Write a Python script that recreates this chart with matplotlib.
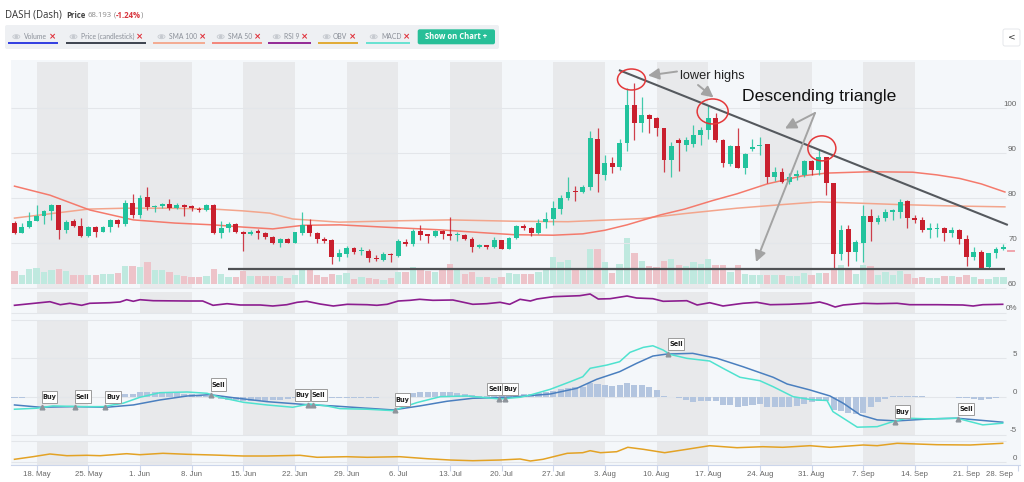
import numpy as np
import pandas as pd
import matplotlib
matplotlib.use("Agg")
import matplotlib.pyplot as plt
import matplotlib.transforms as mtrans
from matplotlib.patches import Rectangle, Ellipse, FancyBboxPatch, Circle

# ---------------- data ----------------
START = pd.Timestamp("2020-05-15")

open_ = [74.56,72.36,73.56,74.96,76.06,77.16,78.46,72.96,74.96,73.86,
         71.66,73.56,72.56,73.56,75.16,74.26,79.06,76.26,80.26,77.96,
         78.26,78.66,77.92,78.56,78.26,77.66,77.36,78.56,72.26,73.36,
         74.26,72.56,71.96,72.76,72.36,71.46,69.96,71.06,70.06,72.36,
         74.06,72.36,71.06,70.76,66.86,67.63,69.03,68.22,68.3,66.8,
         66.3,67.6,67.2,70.2,69.8,72.8,72.0,71.6,72.8,72.07,
         71.8,71.9,71.0,69.1,69.55,69.26,70.66,68.8,71.1,73.9,
         73.5,72.2,74.7,75.35,77.7,80.1,81.55,81.3,82.5,93.2,
         85.25,87.9,86.95,92.4,100.72,96.68,98.5,97.8,95.53,88.5,
         92.9,91.9,92.07,94.07,95.2,97.78,92.96,87.63,91.63,86.67,
         90.9,91.63,92.07,84.67,85.93,83.7,85.04,85.19,88.37,86.3,
         89.1,83.33,67.63,73.2,68.1,70.15,76.1,74.7,75.55,77.0,
         77.0,79.4,75.6,75.2,72.96,73.2,73.33,72.37,72.96,70.89,
         66.9,68.15,64.66,67.8,68.66]
high_ = [74.86,74.46,77.06,78.46,77.36,78.66,78.56,75.16,75.36,75.56,
         73.86,73.86,73.86,75.36,75.36,79.66,80.96,80.66,82.46,78.56,
         79.06,79.76,78.86,78.76,78.56,78.16,78.66,78.66,75.06,74.66,
         74.46,72.66,72.86,73.26,72.56,71.56,71.26,71.26,72.56,76.86,
         75.46,72.46,71.46,70.96,68.66,69.4,69.1,69.1,68.7,67.3,
         68.15,67.8,70.9,70.9,73.2,74.1,72.07,72.96,72.96,75.8,
         72.6,72.07,71.5,69.85,69.6,71.4,70.7,71.3,74.07,74.3,
         73.7,75.3,77.0,79.45,80.7,84.65,82.7,82.9,95.0,95.6,
         89.7,89.2,93.1,104.4,105.6,102.6,98.8,98.0,95.7,92.6,
         93.4,93.6,96.3,95.9,100.5,98.9,93.1,91.85,95.56,90.0,
         93.2,93.56,92.07,87.04,86.67,85.7,86.3,88.5,88.5,90.74,
         89.26,83.33,74.07,74.07,70.7,78.5,77.6,76.2,77.7,77.6,
         79.9,79.6,76.3,75.9,74.6,74.6,73.55,73.55,73.1,71.85,
         69.1,68.5,67.9,69.26,69.85]
low_ = [71.96,72.26,73.36,74.86,74.26,75.16,70.96,72.36,73.56,71.46,
        71.46,71.46,72.46,72.56,73.56,73.86,75.56,75.56,77.36,76.86,
        77.76,77.36,77.56,75.96,77.26,77.06,77.26,72.06,71.26,72.56,
        72.36,68.36,71.76,71.06,70.86,69.92,69.26,69.96,69.96,71.76,
        71.66,70.16,70.16,65.36,65.96,66.9,67.6,67.4,65.8,66.15,
        66.15,65.9,67.0,69.4,69.5,70.7,70.15,71.5,70.9,70.7,
        70.4,70.7,68.15,68.9,68.8,69.0,68.7,68.7,70.96,72.96,
        71.6,72.07,73.5,74.0,76.5,79.6,79.5,81.26,81.8,81.5,
        84.0,85.6,86.2,90.55,92.96,94.63,94.5,93.9,85.8,84.63,
        86.0,90.5,91.5,91.8,93.1,92.6,87.04,87.2,86.67,85.4,
        90.4,89.63,83.5,83.93,83.33,83.2,84.07,84.8,85.19,85.19,
        80.74,64.44,66.3,65.0,66.1,65.9,70.5,74.3,74.9,75.2,
        75.6,73.5,74.4,72.5,71.2,71.5,70.6,71.5,69.85,64.96,
        66.3,64.2,64.3,66.67,68.5]
close_ = [72.36,73.66,74.96,76.06,77.26,78.46,72.96,74.66,73.86,71.66,
          73.56,72.56,73.56,75.16,74.26,79.06,76.26,80.16,78.16,78.16,
          78.66,77.76,78.46,78.16,77.76,77.46,78.56,72.36,73.36,74.26,
          72.56,71.96,72.56,72.26,71.36,69.96,71.06,70.06,72.56,74.06,
          72.36,71.06,70.56,66.86,67.76,69.03,68.15,68.37,66.7,66.6,
          67.6,67.4,70.4,69.8,72.8,71.85,71.7,72.66,72.0,71.7,
          72.0,70.96,69.1,69.55,69.1,70.66,68.8,71.2,73.85,73.5,
          72.2,74.6,75.35,77.8,80.15,81.5,81.3,82.6,93.3,85.3,
          87.9,86.95,92.2,100.72,96.68,98.5,97.7,95.53,88.5,91.7,
          92.3,92.9,94.07,95.2,97.8,92.96,87.78,91.63,86.67,89.85,
          91.5,91.85,84.67,85.93,83.7,84.67,85.33,88.37,86.3,89.26,
          83.33,67.63,72.96,68.0,70.2,76.1,74.8,75.6,77.0,77.3,
          79.26,75.55,75.2,72.96,73.3,73.5,72.2,72.96,70.89,66.9,
          68.15,64.44,67.8,68.74,69.1]
volume = [13.3,9,15,16.3,12,14.3,15.7,13,9.3,9.3,
          9,9.3,10,10,11,18,18,17,22.3,14,
          14,12.7,9,8.3,7.7,7.7,8.3,15.7,10,7.7,
          7,13,8.3,8.3,8.3,8.3,8.3,6.7,9,16.3,
          15,9.7,7.7,10,9.7,11.7,5,7.3,6,5.3,
          4.7,6,12,12,17,15.3,13,12,16,20.7,
          14,10.7,12,7,7,6.3,7,11,10.7,10.7,
          10,12.3,15,27.3,22.5,24,14.8,14,35,35,
          22.5,11.5,19.8,46.5,31.5,23,18.3,17.5,23,25,
          19,18.3,22.3,20.7,25,19,19.7,12.3,19.7,10.7,
          9.7,9,9,9,9.7,8,8.3,11.7,9,11.3,
          11.7,14,19,15.7,10.7,19,18.3,9.7,12.3,9,
          13,10.7,6.3,7.3,6.3,6.3,8.3,8.3,7.3,9.7,
          7.3,5,5.7,7.3,7.3]
last_price = 68.193
price_change_pct = -1.24

sma50_day = [0, 4.8, 10.2, 16.1, 21.7, 26.9, 31, 35, 39.1, 44.1, 50, 57.6, 63, 67.8, 73, 77, 80, 83,
             87.5, 90.8, 94.6, 97.9, 102, 106.8, 110, 115.9, 121.7, 125, 128.1, 131, 134.2]
sma50_val = [82.7, 80.7, 77.4, 75.2, 74.5, 74.1, 73.6, 73.2, 74.0, 74.1, 73.6, 73.0, 72.4, 71.9, 71.8,
             72.1, 72.9, 74.1, 76.3, 77.6, 79.5, 81.0, 83.2, 85.0, 85.6, 85.9, 85.8, 85.2, 84.4, 83.2, 81.4]
sma100_day = [0, 7, 10, 15, 21, 27, 31, 34.6, 37.7, 44, 52, 59, 67.8, 75, 80.7, 85, 90.8, 97.9,
              104, 109, 113, 120, 127, 134.2]
sma100_val = [75.6, 77.0, 77.6, 77.8, 77.8, 77.6, 77.2, 76.7, 75.4, 74.7, 75.0, 75.2, 74.9, 74.8,
              75.2, 75.5, 76.6, 77.8, 78.6, 79.2, 79.0, 78.6, 78.3, 78.1]

rsi_day = [0, 4.8, 6.2, 7.5, 9.1, 10.2, 12.9, 14.3, 15.2, 16.1, 17, 18.8, 23.4, 25.5, 26.9, 28.8, 30.6,
           33.3, 35, 36.9, 38.3, 39.6, 41.4, 43.2, 45.1, 47.8, 49.1, 50.5, 52, 53.6, 54.9, 56.7, 59.4,
           62.1, 64, 65.8, 67.1, 68.5, 69.9, 70.8, 73, 76.6, 78, 79.1, 80.7, 83, 84.3, 86.5, 87.9, 91.1,
           92.5, 94.2, 96, 98.7, 100.6, 102.4, 105, 107.8, 109.1, 110.1, 111.2, 112.3, 115, 116.9,
           119.6, 121.3, 125, 128.5, 129.9, 131.2, 133.9]
rsi_val = [35.2, 52.4, 38.1, 44.8, 35.2, 44.8, 47.6, 51.0, 61.9, 54.3, 61.9, 57.1, 55.7, 55.7, 35.2,
           42.9, 36.7, 36.7, 31.9, 38.1, 49.5, 54.3, 41.4, 31.9, 40.0, 38.1, 35.2, 40.0, 55.7, 59.0,
           63.8, 59.0, 60.5, 40.0, 42.9, 49.5, 40.0, 63.8, 55.7, 65.2, 76.2, 81.0, 89.0, 65.2, 66.7,
           79.5, 70.0, 66.7, 54.3, 57.1, 36.7, 47.6, 31.9, 44.8, 49.5, 38.1, 40.0, 44.8, 51.0, 41.4,
           27.1, 36.7, 44.8, 42.9, 44.8, 38.1, 38.1, 36.7, 31.9, 38.1, 40.0]

macd_day = [0, 3, 5.2, 9.3, 12, 14.7, 17, 19.7, 23.4, 26.1, 27.8, 31, 34.2, 37.7, 40, 42.3, 44.1,
            47.8, 51.3, 54.5, 57.7, 61.3, 65.8, 68.5, 69.9, 72.6, 75.3, 77, 78, 80.3, 82, 83.4,
            85.2, 86.5, 87.9, 88.8, 91.1, 94.2, 96, 98.3, 101, 102.8, 105.5, 108, 110.1, 110.9,
            112.3, 114.2, 116.9, 119, 120.9, 124, 127.7, 131.2, 133.9]
macd_val = [-1.64, -1.51, -1.21, -1.30, -1.30, -0.86, -0.08, 0.52, 0.61, 0.44, -0.08, -0.73, -1.08,
            -1.38, -0.95, -1.21, -1.56, -1.64, -1.82, -0.78, 0.0, 0.09, -0.30, -0.08, 0.22, 0.96,
            1.95, 2.60, 3.70, 4.13, 4.56, 5.78, 6.43, 6.64, 6.08, 5.52, 5.0, 4.65, 3.70, 2.53, 2.08,
            1.30, 0.0, -0.4, -0.5, -1.95, -2.81, -3.98, -3.91, -3.26, -2.81, -2.90, -2.81, -3.68, -3.46]
signal_day = [0, 3.5, 7.9, 12.5, 16.1, 19.7, 23.4, 26.5, 29.6, 34.2, 39.6, 43.2, 47.8, 51.3, 54.9,
              58.6, 62.1, 67.1, 72.6, 76.2, 78.9, 82, 84.3, 86.5, 88.4, 91.9, 95.2, 98.7, 102.8,
              104.7, 107.8, 110.5, 112.3, 114.6, 116.9, 119.6, 124, 127.7, 133.9]
signal_val = [-1.08, -1.38, -1.30, -1.38, -1.08, -0.43, 0.09, 0.26, -0.13, -0.65, -1.04, -1.21,
              -1.51, -1.73, -1.21, -0.60, -0.21, -0.08, 0.35, 1.09, 2.27, 3.26, 4.35, 5.3, 5.56,
              5.65, 5.0, 3.91, 2.53, 1.65, 0.87, 0.09, -0.86, -2.38, -3.03, -3.16, -2.90, -2.81, -3.33]
macd_hist = [-0.2,-0.2,-0.1,-0.05,-0.05,0,0,0,0,0,
             0,0,0,0.05,0.1,0.3,0.4,0.6,0.65,0.6,
             0.6,0.5,0.45,0.4,0.3,0.2,0.15,0,-0.3,-0.4,
             -0.45,-0.5,-0.5,-0.5,-0.5,-0.45,-0.4,-0.35,-0.2,-0.05,
             0,-0.05,-0.1,-0.15,-0.15,-0.15,-0.15,-0.15,-0.15,-0.15,
             -0.1,-0.05,0.05,0.2,0.45,0.55,0.6,0.65,0.65,0.6,
             0.5,0.35,0.2,0.1,0.05,0.05,0.1,0.2,0.3,0.35,
             0.4,0.5,0.6,0.8,1.0,1.1,1.3,1.3,1.8,1.6,
             1.5,1.4,1.5,1.8,1.5,1.5,1.3,0.9,0.15,-0.05,
             -0.15,-0.4,-0.7,-0.6,-0.5,-0.6,-1.1,-1.15,-1.3,-1.2,
             -1.1,-1.0,-1.3,-1.4,-1.4,-1.3,-1.2,-0.9,-0.7,-0.5,
             -0.5,-1.7,-1.9,-2.1,-2.2,-2.1,-1.3,-0.7,-0.25,0.05,
             0.05,0.1,0.1,0.05,0,0,0,-0.05,-0.15,-0.2,
             -0.3,-0.4,-0.3,-0.2,-0.1]

obv_day = [0, 2.5, 4.8, 7.1, 9.8, 11.6, 15.2, 17, 20.1, 23.4, 26.9, 31, 34.2, 38.7, 41, 45, 47.8,
           52.2, 55.9, 59, 62.1, 65.8, 68.5, 69.9, 71.6, 74.9, 77, 78, 79.4, 81.6, 83.1, 85.2, 88.1,
           91.1, 94.2, 97.9, 101.4, 104.1, 107.8, 110.5, 115, 116.9, 119.6, 125, 129.5, 133.9]
obv_val = [3.0, 5.6, 8.3, 6.6, 7.0, 6.6, 8.6, 7.6, 9.0, 8.0, 7.3, 6.3, 6.3, 7.0, 5.0, 5.6, 5.0, 5.6,
           3.6, 2.3, 1.6, 2.3, 3.3, 1.3, 3.0, 9.0, 9.6, 11.6, 9.6, 10.6, 15.0, 13.0, 9.6, 13.0, 16.6,
           14.6, 15.6, 15.0, 16.6, 15.0, 17.3, 16.6, 19.0, 17.6, 17.3, 19.0]

flag_day = [3.69, 8.2, 12.3, 26.6, 39.8, 40.4, 51.5, 65.7, 66.4, 88.6, 119.3, 127.9]
flag_val = [-1.38, -1.30, -1.38, 0.22, -1.12, -1.12, -1.73, -0.34, -0.34, 5.52, -3.26, -2.94]
flag_text = ["Buy", "Sell", "Buy", "Sell", "Buy", "Sell", "Buy", "Sell", "Buy", "Sell", "Buy", "Sell"]

trend_day = [81.9, 134.6]
trend_price = [108.5, 74.07]
support_day = [28.9, 134.2]
support_price = 64.2
circle_day = [83.6, 94.6, 109.4]
circle_price = [106.4, 99.3, 91.1]

price_ticks = [60, 70, 80, 90, 100]
macd_ticks = [-5, 0, 5]
legend_names = ["Volume", "Price (candlestick)", "SMA 100", "SMA 50", "RSI 9", "OBV", "MACD"]
legend_colors = ["#2330e0", "#2f3542", "#f4a58a", "#f47f72", "#8b1a8e", "#e0a526", "#5ce1cf"]

# ---------------- layout helpers ----------------
W, H = 1024, 482
fig = plt.figure(figsize=(W / 100, H / 100), dpi=100)
fig.patch.set_facecolor("white")
renderer = fig.canvas.get_renderer()

PX_DAY, X0 = 7.38, 14.5
def px2day(x):
    return (x - X0) / PX_DAY

L_PX, R_PX = 11, 1020
XLIM = (px2day(L_PX), px2day(R_PX))
GRID_END = px2day(1006)
BG, BAND, GRID = "#f4f7fa", "#e8e9eb", "#e3e6ea"
UP, DOWN = "#22c39d", "#c91f2e"

def rect(x0, y0, x1, y1):
    return [x0 / W, 1 - y1 / H, (x1 - x0) / W, (y1 - y0) / H]

fig.add_artist(Rectangle((L_PX / W, 1 - 465 / H), (1021 - L_PX) / W, (465 - 60) / H,
                         transform=fig.transFigure, facecolor=BG, edgecolor="none", zorder=0))

def make_ax(y0, y1, ylim):
    ax = fig.add_axes(rect(L_PX, y0, R_PX, y1))
    ax.set_xlim(*XLIM)
    ax.set_ylim(*ylim)
    ax.patch.set_alpha(0)
    for s in ax.spines.values():
        s.set_visible(False)
    ax.set_xticks([])
    ax.set_yticks([])
    return ax

def bands(ax):
    for k in range(9):
        ax.axvspan(3 + 14 * k, 10 + 14 * k, color=BAND, lw=0, zorder=0)

def grid(ax, levels):
    ax.hlines(levels, XLIM[0], GRID_END, color=GRID, lw=0.8, zorder=0.5, clip_on=False)

LAB_X = (1017 - L_PX) / (R_PX - L_PX)
def ylabels(ax, vals, texts):
    tr = mtrans.offset_copy(mtrans.blended_transform_factory(ax.transAxes, ax.transData),
                            fig=fig, x=0, y=4, units="dots")
    for v, t in zip(vals, texts):
        ax.text(LAB_X, v, t, transform=tr, ha="right", va="center", fontsize=5.8,
                color="#666666", family="Liberation Sans", clip_on=False)

days = np.arange(len(close_))
o, h, l, c = map(np.array, (open_, high_, low_, close_))
up = c >= o
cols = np.where(up, UP, DOWN)

# ---------------- price + volume ----------------
P_TOP, P_BOT = 62, 288.3
price_ylim = (60, 90 + (153.3 - P_TOP) / 4.5)
ax_v = make_ax(P_TOP, P_BOT, (-4, P_BOT - P_TOP - 4))
bands(ax_v)
ax_v.bar(days, volume, width=0.86, color=np.where(up, "#bfe9df", "#edc3c9"), lw=0, zorder=1)

ax_p = make_ax(P_TOP, P_BOT, price_ylim)
grid(ax_p, price_ticks)
ax_p.plot(sma100_day, sma100_val, color="#f3a58c", lw=1.1, zorder=2)
ax_p.plot(sma50_day, sma50_val, color="#f47a6c", lw=1.1, zorder=2)
ax_p.vlines(days, l, h, colors=cols, lw=0.9, alpha=0.85, zorder=3)
ax_p.bar(days, np.maximum(np.abs(c - o), 0.22), bottom=np.minimum(o, c), width=0.66,
         color=cols, lw=0, zorder=4)
ylabels(ax_p, price_ticks, [str(v) for v in price_ticks])
ax_p.plot([px2day(1008), px2day(1014)], [last_price, last_price], color="#f0a4ac", lw=1.4,
          clip_on=False, zorder=4)

# annotations (trendline, support, circles)
ax_p.plot(trend_day, trend_price, color="#55595e", lw=1.5, zorder=6, solid_capstyle="butt")
ax_p.hlines(support_price, support_day[0], support_day[1], color="#4f5154", lw=1.6, zorder=6)
circ_size = [(28, 21), (31, 25), (28, 25)]
for (cd, cp), (wpx, hpx) in zip(zip(circle_day, circle_price), circ_size):
    ax_p.add_patch(Ellipse((cd, cp), wpx / PX_DAY, hpx / 4.5, fill=False, ec="#e4383a",
                           lw=1.1, zorder=7))

# ---------------- RSI ----------------
ax_r = make_ax(291.7, 312.7, (0, 100))
bands(ax_r)
grid(ax_r, [0])
ax_r.plot(rsi_day, rsi_val, color="#8c1d8f", lw=1.2, zorder=3)
ylabels(ax_r, [0], ["0%"])

# ---------------- MACD ----------------
ax_m = make_ax(320, 435, (-5, 10))
bands(ax_m)
grid(ax_m, [-5, 0, 5, 10])
ax_m.bar(days, macd_hist, width=0.82, color="#b3c5df", lw=0, zorder=2)
ax_m.plot(signal_day, signal_val, color="#4a7fbf", lw=1.1, zorder=3)
ax_m.plot(macd_day, macd_val, color="#4fe2cf", lw=1.1, zorder=3)
ylabels(ax_m, macd_ticks, [str(v) for v in macd_ticks])
ax_m.plot(flag_day, flag_val, ls="none", marker="^", ms=3.4, color="#8e949b", zorder=5)

# ---------------- OBV ----------------
ax_o = make_ax(441, 464.5, (-2.2, 21.3))
bands(ax_o)
grid(ax_o, [0, 21.3])
ax_o.plot(obv_day, obv_val, color="#e3a224", lw=1.1, zorder=3)
ylabels(ax_o, [0], ["0"])
ax_o.spines["bottom"].set_visible(True)
ax_o.spines["bottom"].set_color("#ccd6eb")
ax_o.spines["bottom"].set_linewidth(0.8)
tick_days = list(range(3, 137, 7))
tick_labels = []
for td in tick_days:
    dt = START + pd.Timedelta(days=td)
    tick_labels.append(f"{dt.day}. {dt.strftime('%b')}")
ax_o.set_xticks(tick_days)
ax_o.set_xticklabels([])
ax_o.tick_params(axis="x", direction="out", length=4, width=0.8, color="#ccd6eb")
ax_o.set_xlim(*XLIM)
lab_tr = mtrans.blended_transform_factory(ax_o.transData, fig.transFigure)
for i, (td, tl) in enumerate(zip(tick_days, tick_labels)):
    last = i == len(tick_days) - 1
    xx = td - (5 / PX_DAY if last else 0)
    ax_o.text(xx, 1 - 474.5 / H, tl, transform=lab_tr, ha="right" if last else "center",
              va="center", fontsize=5.6, color="#666666", family="Liberation Sans", clip_on=False)

# ---------------- overlay (pixel coordinates) ----------------
ov = fig.add_axes([0, 0, 1, 1])
ov.set_xlim(0, W)
ov.set_ylim(H, 0)
ov.axis("off")
ov.set_zorder(20)

def width_px(t):
    bb = t.get_window_extent(renderer=renderer)
    return bb.width

def seq_text(x, y, parts):
    for s, kw, gap in parts:
        t = ov.text(x, y, s, va="center", **kw)
        x += width_px(t) + gap
    return x

# header
ov.text(5, 14.8, "DASH (Dash)", fontsize=6.9, color="#333333", va="center", family="Open Sans")
hdr = dict(fontsize=5.6, family="Open Sans")
seq_text(66.5, 15.3, [("Price", dict(color="#444444", weight="bold", **hdr), 2.0),
                      (f"{last_price:.3f}", dict(color="#8a8a8a", **hdr), 1.5),
                      ("(", dict(color="#8a8a8a", **hdr), 0.2),
                      (f"{price_change_pct:.2f}%", dict(color="#d7353d", weight="bold", **hdr), 0.2),
                      (")", dict(color="#8a8a8a", **hdr), 0)])

# toolbar
ov.add_patch(FancyBboxPatch((5, 25), 494, 24, boxstyle="round,pad=0,rounding_size=2",
                            fc="#eef0f3", ec="none"))
eye_x = [16.3, 73.5, 161.5, 220.7, 276.7, 326.7, 373.7]
text_x = [24, 81, 169, 228, 284, 333, 381]
under = [(8.3, 58.3), (65.7, 146), (153, 205), (212, 262), (268, 310.7), (318, 357.7), (365.7, 410)]
for name, col, ex, tx, (u0, u1) in zip(legend_names, legend_colors, eye_x, text_x, under):
    ov.add_patch(Ellipse((ex, 36.7), 7, 4, fill=False, ec="#c6cad0", lw=0.6))
    ov.add_patch(Circle((ex, 36.7), 1.1, color="#c6cad0"))
    t = ov.text(tx, 36.9, name, fontsize=4.9, color="#8a8f98", va="center", family="Lato")
    xx = tx + width_px(t) + 5
    ov.text(xx, 36.7, "\u00d7", fontsize=6.2, color="#e0303a", va="center", ha="center",
            weight="bold", family="DejaVu Sans")
    ov.plot([u0, u1], [42.8, 42.8], color=col, lw=1.3, solid_capstyle="butt")
ov.add_patch(FancyBboxPatch((417.7, 29.3), 77.3, 15, boxstyle="round,pad=0,rounding_size=2",
                            fc="#27bf98", ec="none"))
ov.text(456.3, 36.9, "Show on Chart +", fontsize=5.5, color="white", weight="bold",
        ha="center", va="center", family="Open Sans")
ov.add_patch(FancyBboxPatch((1003, 29), 17, 17, boxstyle="round,pad=0,rounding_size=2",
                            fc="white", ec="#e2e4e8", lw=0.6))
ov.text(1011.5, 37.3, "<", fontsize=6.5, color="#333333", ha="center", va="center",
        family="DejaVu Sans")

# annotation texts and arrows
ov.text(680, 78.5, "lower highs", fontsize=9.2, color="#222222", va="baseline",
        family="Liberation Sans")
ov.text(742, 101.5, "Descending triangle", fontsize=12.6, color="#111111", va="baseline",
        family="Liberation Sans")
arrow_kw = dict(arrowstyle="-|>,head_length=0.55,head_width=0.28", color="#a3a3a3", lw=1.4,
                shrinkA=0, shrinkB=0, mutation_scale=12)
for (x1, y1), (x2, y2) in [((677, 71.5), (648, 75.5)), ((698, 85), (713.5, 97.5)),
                           ((815, 113), (785, 128.5)), ((815, 113), (756, 262))]:
    ov.annotate("", xy=(x2, y2), xytext=(x1, y1), arrowprops=arrow_kw)

# Buy / Sell flags
flag_off = [0, 0, 0, 0, -13.6, -1.6, 0, -12.3, -2.3, 0, 0, 0]
for d, v, t, off in zip(flag_day, flag_val, flag_text, flag_off):
    xd, yd = ax_m.transData.transform((d, v))
    X, Y = xd, H - yd
    bx = X + off
    ov.add_patch(Rectangle((bx, Y - 4 - 12.5), 15.5, 12.5, fc="white", ec="#9c9c9c", lw=0.7))
    ov.text(bx + 7.75, Y - 4 - 6.1, t, ha="center", va="center", fontsize=4.7,
            weight="bold", color="#222222", family="DejaVu Sans")

fig.savefig("out.png", dpi=100)
